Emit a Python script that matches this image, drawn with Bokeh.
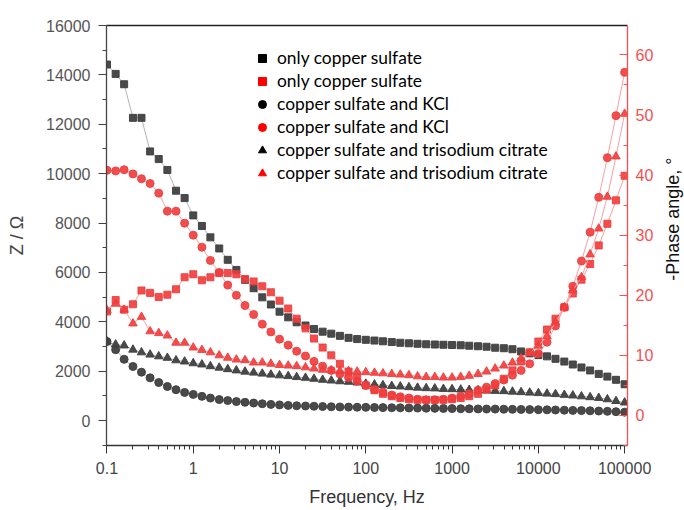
import math
from bokeh.plotting import figure
from bokeh.layouts import row
from bokeh.core.properties import value
from bokeh.models import (Range1d, LinearAxis, LogAxis, FixedTicker, SingleIntervalTicker,
                          CustomJSTickFormatter, Legend, LegendItem, ColumnDataSource)
from bokeh.embed import file_html
from bokeh.resources import INLINE

freq = [0.1, 0.126, 0.158, 0.2, 0.251, 0.316, 0.398, 0.501, 0.631, 0.794,
        1, 1.26, 1.58, 2, 2.51, 3.16, 3.98, 5.01, 6.31, 7.94,
        10, 12.6, 15.8, 20, 25.1, 31.6, 39.8, 50.1, 63.1, 79.4,
        100, 126, 158, 200, 251, 316, 398, 501, 631, 794,
        1000, 1260, 1580, 2000, 2510, 3160, 3980, 5010, 6310, 7940,
        10000, 12600, 15800, 20000, 25100, 31600, 39800, 50100, 63100, 79400, 100000]

z_only = [14420, 14040, 13620, 12260, 12260, 10900, 10590, 10150, 9310, 9010,
          8310, 7880, 7420, 6970, 6510, 6100, 5700, 5360, 4990, 4700,
          4410, 4180, 3980, 3850, 3710, 3600, 3520, 3430, 3350, 3300,
          3270, 3240, 3210, 3180, 3150, 3130, 3110, 3090, 3080, 3070,
          3060, 3050, 3030, 3010, 2990, 2950, 2930, 2890, 2800, 2720,
          2650, 2600, 2500, 2390, 2270, 2150, 2030, 1890, 1780, 1650, 1470]

z_kcl = [3200, 2870, 2480, 2190, 1960, 1730, 1540, 1380, 1250, 1140,
         1060, 980, 910, 850, 810, 770, 740, 710, 680, 655,
         635, 615, 600, 590, 580, 570, 560, 550, 545, 540,
         535, 530, 525, 520, 515, 510, 505, 500, 495, 490,
         485, 480, 476, 472, 468, 464, 460, 455, 450, 445,
         440, 435, 428, 420, 412, 404, 396, 386, 374, 360, 340]

z_cit = [3200, 3080, 3040, 2870, 2760, 2670, 2600, 2540, 2440, 2390,
         2320, 2270, 2200, 2140, 2080, 2030, 1980, 1940, 1900, 1860,
         1830, 1800, 1760, 1730, 1690, 1650, 1620, 1590, 1570, 1540,
         1490, 1460, 1430, 1400, 1380, 1350, 1330, 1310, 1300, 1280,
         1270, 1255, 1240, 1230, 1215, 1200, 1190, 1170, 1150, 1130,
         1110, 1090, 1070, 1040, 1015, 980, 945, 915, 860, 790, 730]

ph_only = [17.3, 19.2, 17.6, 18.5, 20.8, 20.4, 19.7, 20.1, 21.0, 23.0,
           23.5, 22.5, 23.0, 23.7, 23.7, 23.5, 22.7, 22.3, 21.5, 20.5,
           19.1, 17.8, 16.1, 14.5, 12.8, 11.3, 10.0, 8.6, 7.3, 6.3,
           5.0, 4.2, 3.6, 3.2, 2.9, 2.7, 2.6, 2.6, 2.6, 2.6,
           2.7, 2.9, 3.2, 3.6, 4.3, 5.0, 6.1, 7.5, 9.0, 10.5,
           12.3, 14.3, 16.1, 18.0, 20.3, 22.6, 25.2, 28.3, 31.9, 35.8, 39.9]

ph_kcl = [40.8, 40.7, 40.9, 40.2, 39.4, 38.6, 37.0, 34.0, 34.0, 32.0,
          30.0, 28.0, 25.8, 23.8, 21.7, 20.0, 18.3, 16.8, 15.2, 13.9,
          12.7, 11.7, 10.7, 9.9, 9.0, 8.2, 7.5, 6.9, 6.3, 5.7,
          5.0, 4.3, 3.9, 3.4, 3.1, 2.9, 2.7, 2.6, 2.6, 2.7,
          2.9, 3.2, 3.6, 4.2, 4.7, 5.3, 5.9, 6.7, 7.5, 8.6,
          10.3, 12.2, 14.9, 18.0, 21.5, 25.7, 30.5, 36.3, 42.9, 49.9, 57.1]

ph_cit = [17.5, 18.6, 17.6, 15.3, 16.4, 14.0, 13.7, 13.3, 12.1, 12.1,
          11.3, 10.9, 10.5, 10.0, 9.6, 9.3, 9.2, 8.8, 8.8, 8.6,
          8.4, 8.3, 8.2, 8.0, 7.8, 7.6, 7.5, 7.4, 7.4, 7.3,
          7.2, 7.1, 7.0, 6.9, 6.8, 6.7, 6.5, 6.4, 6.4, 6.3,
          6.3, 6.4, 6.6, 6.9, 7.3, 7.8, 8.3, 8.8, 9.5, 10.4,
          11.6, 13.2, 15.5, 18.0, 20.8, 23.0, 26.8, 31.1, 36.4, 43.1, 50.2]

legend_labels = ["only copper sulfate", "only copper sulfate",
                 "copper sulfate and KCl", "copper sulfate and KCl",
                 "copper sulfate and trisodium citrate", "copper sulfate and trisodium citrate"]
right_title = "-Phase angle, °"

x_major = [0.1, 1, 10, 100, 1000, 10000, 100000]
x_minor = [m * d for d in x_major[:-1] for m in range(1, 10)] + [100000]

BLACK = "#404040"
BLACK_LINE = "#b4b4b4"
RED = "#f03c3c"
RED_LINE = "#f7a0a0"
RIGHT_RED = "#f55050"

p = figure(width=660, height=510, x_axis_type="log",
           x_range=Range1d(0.0987, 108000), y_range=Range1d(-1010, 16000),
           output_backend="svg", toolbar_location=None,
           min_border_left=106, min_border_right=33, min_border_top=25, min_border_bottom=65)
p.grid.visible = False
p.outline_line_color = None
p.background_fill_color = "white"
p.extra_y_ranges = {"phase": Range1d(-5, 64.9)}

src = ColumnDataSource(dict(f=freq, z_only=z_only, z_kcl=z_kcl, z_cit=z_cit,
                            ph_only=ph_only, ph_kcl=ph_kcl, ph_cit=ph_cit))

# impedance (left axis)
for col, mk, sz in [("z_only", "square", 7), ("z_kcl", "circle", 8), ("z_cit", "triangle", 8.5)]:
    p.line("f", col, source=src, line_color=BLACK_LINE, line_width=1)
    p.scatter("f", col, source=src, marker=mk, size=sz, fill_color=BLACK, line_color=BLACK, alpha=0.95)

# phase (right axis)
for col, mk, sz in [("ph_only", "square", 7), ("ph_kcl", "circle", 8), ("ph_cit", "triangle", 8.5)]:
    p.line("f", col, source=src, line_color=RED_LINE, line_width=1, y_range_name="phase")
    p.scatter("f", col, source=src, marker=mk, size=sz, fill_color=RED, line_color=RED,
              alpha=0.9, y_range_name="phase")

# x axis
xa = p.xaxis[0]
xa.ticker = FixedTicker(ticks=x_major, minor_ticks=x_minor)
xa.formatter = CustomJSTickFormatter(code="return tick < 1 ? tick.toFixed(1) : tick.toFixed(0);")
xa.axis_label = "Frequency, Hz"
xa.axis_label_text_font = "Liberation Sans"
xa.axis_label_text_font_size = "18px"
xa.axis_label_text_font_style = "normal"
xa.axis_label_text_color = "#333333"
xa.axis_label_standoff = 10
xa.major_label_text_font = "Liberation Sans"
xa.major_label_text_font_size = "16px"
xa.major_label_text_color = "#444444"
xa.major_label_standoff = 8
xa.major_tick_out = 8
xa.major_tick_in = 0
xa.minor_tick_out = 4
xa.minor_tick_in = 0
xa.axis_line_color = "#333333"
xa.axis_line_width = 1.3
xa.major_tick_line_color = "#333333"
xa.minor_tick_line_color = "#333333"

# left y axis
ya = p.yaxis[0]
ya.ticker = SingleIntervalTicker(interval=2000, num_minor_ticks=2)
ya.axis_label = "Z / Ω"
ya.axis_label_text_font = "Liberation Sans"
ya.axis_label_text_font_size = "18px"
ya.axis_label_text_font_style = "normal"
ya.axis_label_text_color = "#444444"
ya.axis_label_standoff = 16
ya.major_label_text_font = "Liberation Sans"
ya.major_label_text_font_size = "16px"
ya.major_label_text_color = "#555555"
ya.major_label_standoff = 8
ya.major_tick_out = 8
ya.major_tick_in = 0
ya.minor_tick_out = 4
ya.minor_tick_in = 0
ya.axis_line_color = "#444444"
ya.axis_line_width = 1.3
ya.major_tick_line_color = "#444444"
ya.minor_tick_line_color = "#444444"

# right y axis (phase): ticks and red line
ra = LinearAxis(y_range_name="phase", ticker=SingleIntervalTicker(interval=10, num_minor_ticks=2))
ra.major_label_text_font = "Liberation Sans"
ra.major_label_text_font_size = "16px"
ra.major_label_text_color = RIGHT_RED
ra.major_label_standoff = 8
ra.major_tick_out = 0
ra.major_tick_in = 8
ra.minor_tick_out = 0
ra.minor_tick_in = 4
ra.axis_line_color = RIGHT_RED
ra.axis_line_width = 1.3
ra.major_tick_line_color = RIGHT_RED
ra.minor_tick_line_color = RIGHT_RED
p.add_layout(ra, "right")

# top border
ta = LogAxis(ticker=FixedTicker(ticks=[]), major_label_text_font_size="0px",
             major_tick_out=0, minor_tick_out=0, axis_line_color="#222222", axis_line_width=1.3)
p.add_layout(ta, "above")

# legend proxies
nan = float("nan")
proxies = []
for mk, col in [("square", "black"), ("square", "red"), ("circle", "black"),
                ("circle", "red"), ("triangle", "black"), ("triangle", "red")]:
    proxies.append(p.scatter(x=[nan], y=[nan], marker=mk, size=9, fill_color=col, line_color=col))

legend = Legend(items=[LegendItem(label=lab, renderers=[r]) for lab, r in zip(legend_labels, proxies)],
                location=(146, 262), orientation="vertical",
                border_line_color=None, background_fill_alpha=0,
                padding=0, margin=0, spacing=2, glyph_width=20, glyph_height=20,
                label_height=20, label_standoff=5,
                label_text_font="Lato", label_text_font_size="17.4px", label_text_color="black")
p.add_layout(legend)

# narrow strip on the right that carries the right-axis title, reading bottom-to-top
p2 = figure(width=24, height=510, x_range=Range1d(0, 1), y_range=Range1d(0, 1),
            output_backend="svg", toolbar_location=None,
            min_border_left=0, min_border_right=0, min_border_top=0, min_border_bottom=0)
p2.axis.visible = False
p2.grid.visible = False
p2.outline_line_color = None
p2.text(x=[0.5], y=[0.539], text=[right_title], angle=math.pi / 2,
        text_font=value("Liberation Sans"), text_font_size="18px", text_color="#111111",
        text_align="center", text_baseline="middle")

layout = row(p, p2, spacing=0)
open("out.html", "w").write(file_html(layout, INLINE))
